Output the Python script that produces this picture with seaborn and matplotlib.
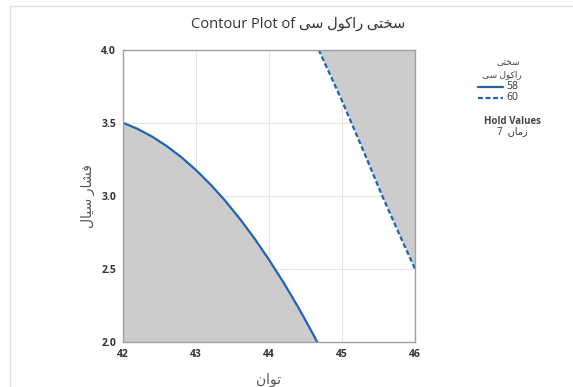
import matplotlib
matplotlib.use("Agg")
import pandas as pd
import seaborn as sns
from matplotlib import pyplot as plt
from matplotlib.lines import Line2D
from matplotlib.patches import Rectangle

# Persian text, written in presentation forms and visual (left-to-right) order
RESPONSE = "\uFEF0\uFEB3 \uFEDD\uFEEE\uFB90\uFE8D\uFEAD \uFEF0\uFE98\uFEA8\uFEB3"  # سختی راکول سی
RESP_LINE1 = "\uFEF0\uFE98\uFEA8\uFEB3"  # سختی
RESP_LINE2 = "\uFEF0\uFEB3 \uFEDD\uFEEE\uFB90\uFE8D\uFEAD"  # راکول سی
X_NAME = "\uFEE5\uFE8D\uFEEE\uFE97"  # توان
Y_NAME = "\uFEDD\uFE8E\uFEF4\uFEB3 \uFEAD\uFE8E\uFEB8\uFED3"  # فشار سیال
HOLD_NAME = "\uFEE5\uFE8E\uFEE3\uFEAF"  # زمان
hold_value = 7

# contour 58
x58 = [42.0, 42.2, 42.4, 42.6, 42.8, 43.0, 43.2, 43.4, 43.6, 43.8, 44.0, 44.2, 44.4, 44.6, 44.66]
y58 = [3.5, 3.458, 3.405, 3.34, 3.264, 3.176, 3.077, 2.966, 2.843, 2.709, 2.563, 2.406, 2.238, 2.057, 2.0]
# contour 60
x60 = [44.68, 45.0, 45.3, 45.55, 45.8, 46.0]
y60 = [4.0, 3.65, 3.3, 3.0, 2.72, 2.5]

levels = [58, 60]
xticks = [42, 43, 44, 45, 46]
yticks = [2.0, 2.5, 3.0, 3.5, 4.0]

df = pd.concat([
    pd.DataFrame({"x": x58, "y": y58, "level": 58}),
    pd.DataFrame({"x": x60, "y": y60, "level": 60}),
])

sns.set_style("white")
fonts = ["Open Sans", "DejaVu Sans"]
plt.rcParams["font.family"] = fonts

blue = "#1f63b4"
dash = (2.2, 1.2)
fig = plt.figure(figsize=(5.73, 3.87), dpi=100)
ax = fig.add_axes([0.2147, 0.1163, 0.5096, 0.7553])

ax.fill_between(x58, y58, 2.0, color="#cccccc", lw=0)
ax.fill_between(x60, y60, 4.0, color="#cccccc", lw=0)
sns.lineplot(data=df, x="x", y="y", style="level", color=blue, lw=1.6,
             dashes={58: "", 60: dash}, estimator=None, sort=False,
             legend=False, ax=ax)

ax.set_xlim(42, 46)
ax.set_ylim(2.0, 4.0)
ax.set_xticks(xticks)
ax.set_yticks(yticks)
ax.set_xticklabels([str(t) for t in xticks], fontsize=7.5, fontweight="bold", color="#333333")
ax.set_yticklabels([f"{t:.1f}" for t in yticks], fontsize=7.5, fontweight="bold", color="#333333")
ax.grid(True, color="#e5e5e5", lw=0.8)
ax.set_axisbelow(True)
for s in ax.spines.values():
    s.set_color("#a0a0a0")
    s.set_linewidth(1.0)
ax.tick_params(axis="both", direction="out", length=3, width=0.8, color="#a0a0a0", pad=2)
ax.set_xlabel(X_NAME, fontsize=10, color="#555555", labelpad=9, family=fonts)
ax.set_ylabel(Y_NAME, fontsize=10, color="#555555", labelpad=4, family=fonts)

fig.text(0.52, 0.938, "Contour Plot of " + RESPONSE, ha="center", va="center",
         fontsize=10.5, color="#333333", family=fonts)

# legend
fig.text(0.908, 0.838, RESP_LINE1, ha="right", va="center", fontsize=6.5, color="#444444", family=fonts)
fig.text(0.91, 0.808, RESP_LINE2, ha="right", va="center", fontsize=6.5, color="#444444", family=fonts)
for i, lv in enumerate(levels):
    yy = 0.776 - i * 0.029
    ls = "-" if lv == 58 else (0, dash)
    fig.add_artist(Line2D([0.834, 0.877], [yy, yy], color=blue, lw=1.6, linestyle=ls,
                          transform=fig.transFigure))
    fig.text(0.884, yy, str(lv), ha="left", va="center", fontsize=7.5, color="#333333")
fig.text(0.895, 0.687, "Hold Values", ha="center", va="center", fontsize=7,
         fontweight="bold", color="#444444")
fig.text(0.895, 0.659, f"{hold_value}  " + HOLD_NAME, ha="center", va="center",
         fontsize=7, color="#333333", family=fonts)

fig.add_artist(Rectangle((10 / 573, -0.1), 1.2, 1.1 - 6 / 387, transform=fig.transFigure,
                         fill=False, ec="#e0e0e0", lw=1.0))

fig.savefig("out.png", dpi=100)
